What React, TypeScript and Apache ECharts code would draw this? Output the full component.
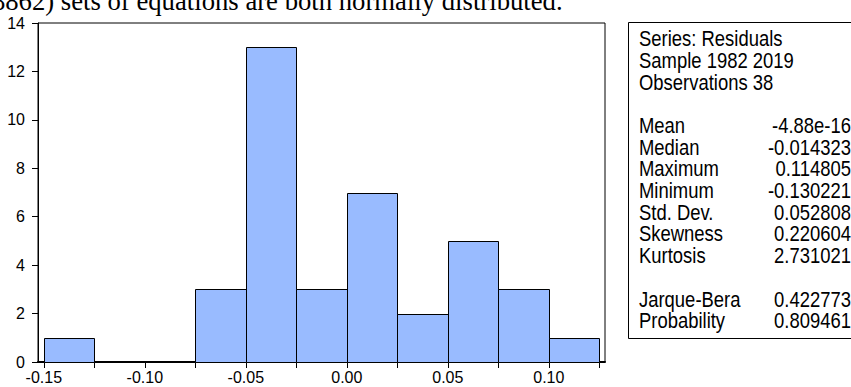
import React, { useEffect, useRef } from "react";
import * as echarts from "echarts";

const binEdges = [-0.15, -0.125, -0.1, -0.075, -0.05, -0.025, 0, 0.025, 0.05, 0.075, 0.1, 0.125];
const counts = [1, 0, 0, 3, 13, 3, 7, 2, 5, 3, 1];
const xLabelValues = [-0.15, -0.1, -0.05, 0, 0.05, 0.1];
const xTickValues = binEdges;
const headerText = "(8862) sets of equations are both normally distributed.";
const statLabels = [
  "Series: Residuals",
  "Sample 1982 2019",
  "Observations 38",
  "",
  "Mean",
  "Median",
  "Maximum",
  "Minimum",
  "Std. Dev.",
  "Skewness",
  "Kurtosis",
  "",
  "Jarque-Bera",
  "Probability",
];
const statValues = [
  "",
  "",
  "",
  "",
  "-4.88e-16",
  "-0.014323",
  "0.114805",
  "-0.130221",
  "0.052808",
  "0.220604",
  "2.731021",
  "",
  "0.422773",
  "0.809461",
];

const SANS = "'Liberation Sans', Arial, sans-serif";

export default function App() {
  const ref = useRef<HTMLDivElement>(null);
  useEffect(() => {
    document.body.style.margin = "0";
    const chart = echarts.init(ref.current!, null, { renderer: "svg" });
    const data = counts.map((c, i) => [binEdges[i], binEdges[i + 1], c]);
    const lh = 21.7;
    chart.setOption({
      animation: false,
      backgroundColor: "#fff",
      grid: {
        left: 38,
        right: 246,
        top: 23,
        bottom: 25,
        show: true,
        borderColor: "#000",
        borderWidth: 1,
        backgroundColor: "transparent",
      },
      xAxis: {
        type: "value",
        min: -0.15287,
        max: 0.12782,
        splitLine: { show: false },
        axisLine: { show: true, onZero: false, lineStyle: { color: "#000", width: 2 } },
        axisTick: {
          show: true,
          length: 6,
          customValues: xTickValues,
          lineStyle: { color: "#000", width: 1 },
        },
        axisLabel: {
          customValues: xLabelValues,
          formatter: (v: number) => v.toFixed(2),
          color: "#000",
          fontFamily: SANS,
          fontSize: 16,
          margin: 7,
        },
      },
      yAxis: {
        type: "value",
        min: 0,
        max: 14,
        interval: 2,
        splitLine: { show: false },
        axisLine: { show: true, onZero: false, lineStyle: { color: "#000", width: 1 } },
        axisTick: { show: true, length: 6, lineStyle: { color: "#000" } },
        axisLabel: {
          color: "#000",
          fontFamily: SANS,
          fontSize: 16,
          margin: 13,
        },
      },
      series: [
        {
          type: "custom",
          data,
          encode: { x: [0, 1], y: 2 },
          renderItem: (params: any, api: any) => {
            const x0 = api.value(0);
            const x1 = api.value(1);
            const c = api.value(2);
            if (!(c > 0)) return null;
            const p0 = api.coord([x0, c]);
            const p1 = api.coord([x1, 0]);
            return {
              type: "rect",
              shape: {
                x: Math.round(p0[0]) + 0.5,
                y: Math.round(p0[1]) + 0.5,
                width: Math.round(p1[0]) - Math.round(p0[0]),
                height: Math.round(p1[1]) - Math.round(p0[1]),
              },
              style: { fill: "#99bbff", stroke: "#000", lineWidth: 1 },
            };
          },
        },
      ],
      graphic: [
        {
          type: "text",
          x: -17,
          y: 1,
          style: {
            text: headerText,
            fill: "#000",
            fontFamily: "'Liberation Serif', 'Times New Roman', serif",
            fontSize: 26.7,
            verticalAlign: "middle",
            align: "left",
          },
        },
        {
          type: "rect",
          shape: { x: 628.5, y: 22.5, width: 240, height: 316 },
          style: { fill: "#fff", stroke: "#000", lineWidth: 1 },
        },
        {
          type: "text",
          x: 639,
          y: 38 - lh / 2,
          scaleX: 0.82,
          style: {
            text: statLabels.join("\n"),
            fill: "#000",
            fontFamily: SANS,
            fontSize: 22.5,
            lineHeight: lh,
            align: "left",
            verticalAlign: "top",
          },
        },
        {
          type: "text",
          x: 851,
          y: 38 - lh / 2,
          scaleX: 0.82,
          style: {
            text: statValues.join("\n"),
            fill: "#000",
            fontFamily: SANS,
            fontSize: 22.5,
            lineHeight: lh,
            align: "right",
            verticalAlign: "top",
          },
        },
      ],
    });
    return () => chart.dispose();
  }, []);
  return (
    <div
      ref={ref}
      style={{ position: "absolute", left: 0, top: 0, width: 851, height: 387 }}
    />
  );
}
